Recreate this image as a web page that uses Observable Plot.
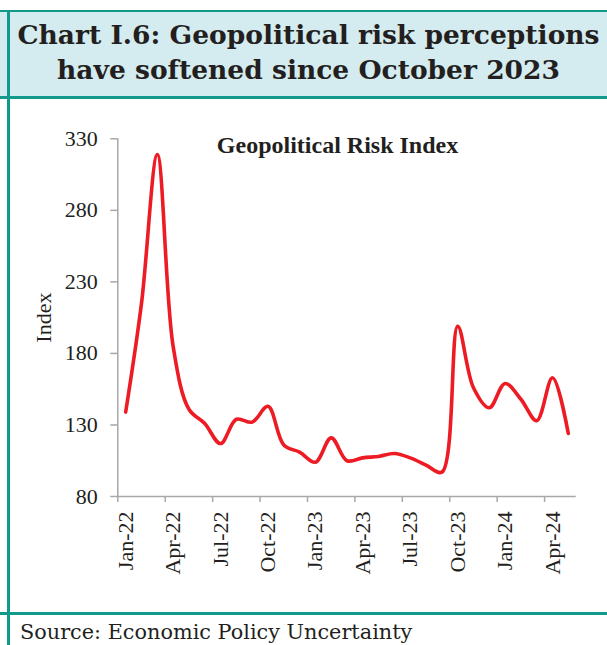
<!DOCTYPE html>
<html>
<head>
<meta charset="utf-8">
<script src="https://cdn.jsdelivr.net/npm/d3@7"></script>
<script src="https://cdn.jsdelivr.net/npm/@observablehq/plot@0.6"></script>
<style>
  html, body { margin: 0; padding: 0; background: #fff; }
  #wrap { position: relative; width: 607px; height: 645px; overflow: hidden; background: #fff; }
  #header { position: absolute; left: 0; top: 10px; width: 607px; height: 84px;
    background: #d4ebef; border-top: 2px solid #119a8b; border-bottom: 3px solid #119a8b; }
  #title { position: absolute; left: 10px; top: 17px; width: 597px; text-align: center;
    font-family: "DejaVu Serif", serif; font-weight: bold; font-size: 26.5px; line-height: 35px; color: #231f20; white-space: nowrap; }
  #vline { position: absolute; left: 7px; top: 10px; width: 3px; height: 635px; background: #119a8b; }
  #bline { position: absolute; left: 0; top: 612px; width: 607px; height: 3px; background: #119a8b; }
  #source { position: absolute; left: 20px; top: 620px; font-family: "DejaVu Serif", serif;
    font-size: 20.8px; color: #231f20; white-space: nowrap; }
  #chart { position: absolute; left: 10px; top: 98px; }
</style>
</head>
<body>
<div id="wrap">
  <div id="header"></div>
  <div id="title">Chart I.6: Geopolitical risk perceptions<br>have softened since October 2023</div>
  <div id="vline"></div>
  <div id="chart"></div>
  <div id="bline"></div>
  <div id="source">Source: Economic Policy Uncertainty</div>
</div>
<script>
const months = ["Jan-22","Feb-22","Mar-22","Apr-22","May-22","Jun-22","Jul-22","Aug-22","Sep-22","Oct-22","Nov-22","Dec-22",
  "Jan-23","Feb-23","Mar-23","Apr-23","May-23","Jun-23","Jul-23","Aug-23","Sep-23","Oct-23","Nov-23","Dec-23",
  "Jan-24","Feb-24","Mar-24","Apr-24","May-24"];
const gprValues = [139,215,319,185,141,131,117,134,132,143,116,111,
  104,121,105,107,108,110,107,102,97,199,156,142,
  159,148,133,163,124];
const xTickLabels = ["Jan-22","Apr-22","Jul-22","Oct-22","Jan-23","Apr-23","Jul-23","Oct-23","Jan-24","Apr-24"];
const yTicks = [80,130,180,230,280,330];

const data = months.map((m, i) => ({i, month: m, value: gprValues[i]}));
const labelData = xTickLabels.map(l => ({i: months.indexOf(l), label: l}));
const boundaries = labelData.map(d => d.i - 0.5);

const serif = "Liberation Serif, Times New Roman, serif";
const ink = "#231f20";
const axisGrey = "#a8a8a8";

const W = 597, H = 515;
const chart = Plot.plot({
  width: W, height: H,
  marginLeft: 107.3, marginRight: 31.3, marginTop: 40.3, marginBottom: 117,
  style: {fontFamily: serif, fontSize: "22px", color: ink, background: "transparent", overflow: "visible"},
  x: {domain: [-0.5, months.length - 0.5], axis: null},
  y: {domain: [80, 330], axis: null},
  marks: [
    Plot.ruleY([80], {stroke: axisGrey, strokeWidth: 1.5}),
    Plot.ruleX([-0.5], {stroke: axisGrey, strokeWidth: 1.5}),
    Plot.axisY({ticks: yTicks, tickSize: 7, tickPadding: 13, stroke: axisGrey, strokeWidth: 1.5,
      fill: ink, fontSize: 22, label: null}),
    Plot.axisX({ticks: boundaries, tickSize: 6, tickFormat: () => "", stroke: axisGrey, strokeWidth: 1.5, label: null}),
    Plot.text(labelData, {x: "i", y: () => 80, text: "label", rotate: -90, textAnchor: "end",
      lineAnchor: "middle", dy: 15, fontSize: 22, fill: ink}),
    Plot.text(["Index"], {frameAnchor: "left", dx: -74, rotate: -90, textAnchor: "middle",
      lineAnchor: "middle", fontSize: 22, fill: ink}),
    Plot.text(["Geopolitical Risk Index"], {frameAnchor: "top", dx: -9.5, dy: 14, lineAnchor: "bottom",
      fontSize: 24, fontWeight: "bold", fill: ink}),
    Plot.line(data, {x: "i", y: "value", stroke: "#ed1c24", strokeWidth: 3.6, curve: "catmull-rom"})
  ]
});
document.getElementById("chart").appendChild(chart);
</script>
</body>
</html>
